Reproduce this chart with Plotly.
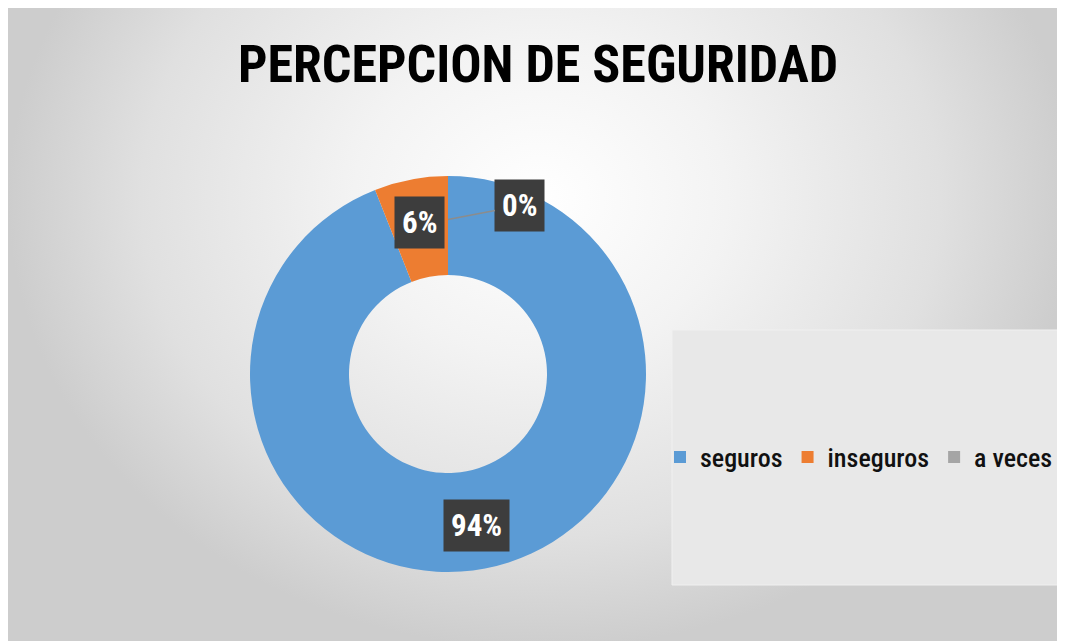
import numpy as np
import plotly.graph_objects as go

W, H = 1065, 641

# datos del grafico
categorias = ['seguros', 'inseguros', 'a veces']
porcentajes = [94, 6, 0]
colores = ['#5B9BD5', '#ED7D31', '#A5A5A5']
titulo = 'PERCEPCION DE SEGURIDAD'

FUENTE = 'Roboto Condensed, Liberation Sans Narrow, Arial Narrow, sans-serif'

# centro y radio de la dona (pixeles de la figura)
cx, cy, R = 440, 366, 198
hueco = 0.5


def px2paper(x, y):
    return x / W, 1 - y / H


fig = go.Figure()

# fondo con degradado radial (decorativo)
fig.add_trace(go.Scatter(
    x=[0, W, W, 0, 0], y=[-260, -260, H, H, -260],
    fill='toself', mode='lines', line=dict(width=0),
    fillgradient=dict(type='radial', colorscale=[[0, '#ffffff'], [0.35, '#f3f3f3'],
                                                 [0.75, '#e0e0e0'], [1, '#cdcdcd']]),
    hoverinfo='skip', showlegend=False,
))

x0, y0 = px2paper(cx - R, cy + R)
x1, y1 = px2paper(cx + R, cy - R)
fig.add_trace(go.Pie(
    labels=categorias, values=porcentajes, sort=False, direction='clockwise', rotation=0,
    hole=hueco, marker=dict(colors=colores, line=dict(width=0)),
    textinfo='none', hoverinfo='label+percent',
    domain=dict(x=[x0, x1], y=[y0, y1]),
))

# etiquetas de porcentaje con caja oscura
total = sum(porcentajes)
inicio = 0.0
r_txt = R * 0.78
for cat, v in zip(categorias, porcentajes):
    frac = v / total
    ang = np.radians((inicio + frac / 2) * 360)
    inicio += frac
    ax_, ay_ = px2paper(cx + r_txt * np.sin(ang), cy - r_txt * np.cos(ang))
    comun = dict(
        xref='paper', yref='paper', x=ax_, y=ay_, text=f'<b>{round(frac * 100)}%</b>',
        xanchor='center', yanchor='middle',
        font=dict(family=FUENTE, size=31, color='white'), bgcolor='#3d3d3d', borderpad=7,
    )
    if v == 0:
        fig.add_annotation(**comun, showarrow=True, arrowhead=0, arrowwidth=1.5,
                           arrowcolor='#8c8c8c', ax=72, ay=-14, standoff=0)
    else:
        fig.add_annotation(**comun, showarrow=False)

tx, ty = px2paper(530, 56)
fig.add_annotation(
    xref='paper', yref='paper', x=tx, y=ty, xanchor='center', yanchor='middle',
    text='<b>' + titulo + '</b>', showarrow=False,
    font=dict(family=FUENTE, size=52, color='black'),
)

# caja de la leyenda
bx0, by0 = px2paper(664, 577)
bx1, by1 = px2paper(1050, 322)
fig.add_shape(type='rect', xref='paper', yref='paper', x0=bx0, x1=bx1, y0=by0, y1=by1,
              fillcolor='#e8e8e8', line=dict(color='#f0f0f0', width=1), layer='above')

lx, ly = px2paper(1050, 449)
fig.update_layout(
    width=W, height=H, autosize=False,
    margin=dict(l=0, r=0, t=0, b=0),
    paper_bgcolor='white', plot_bgcolor='rgba(0,0,0,0)',
    xaxis=dict(range=[0, W], visible=False, fixedrange=True),
    yaxis=dict(range=[H, 0], visible=False, fixedrange=True),
    showlegend=True,
    legend=dict(orientation='h', x=lx, y=ly, xanchor='right', yanchor='middle',
                font=dict(family=FUENTE, size=26, color='#111111', weight=500),
                bgcolor='rgba(0,0,0,0)', itemwidth=30, traceorder='normal'),
)

fig.write_html('out.html')
